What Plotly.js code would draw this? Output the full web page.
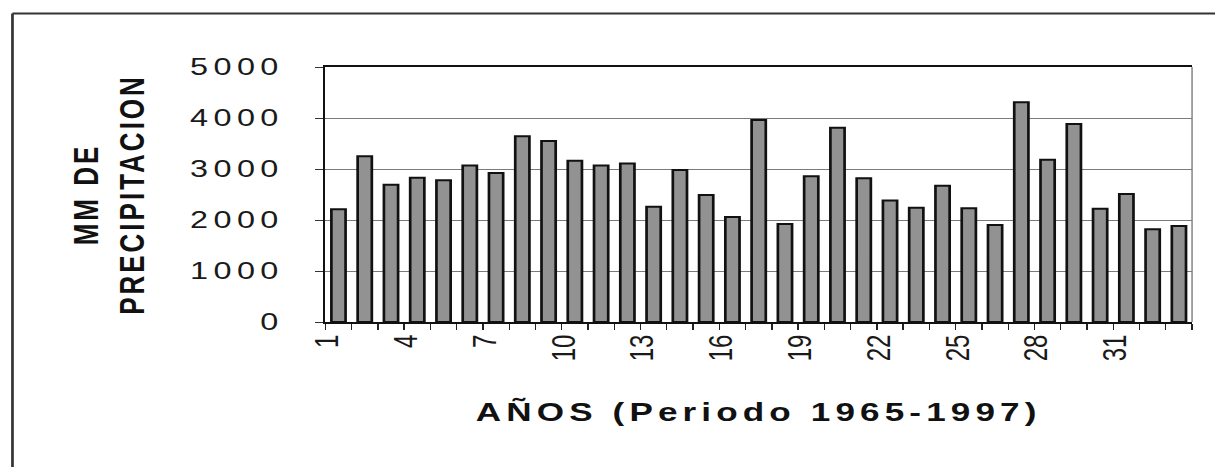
<!DOCTYPE html>
<html>
<head>
<meta charset="utf-8">
<script src="https://cdn.plot.ly/plotly-3.0.1.min.js"></script>
<style>
  html, body { margin: 0; padding: 0; background: #fff; overflow: hidden; }
  #chart { width: 900px; height: 467px; transform: scaleX(1.35); transform-origin: 0 0; }
  #chart .ytick text { letter-spacing: 4px; }
  #chart .g-xtitle text { letter-spacing: 3.8px; }
  #chart .g-ytitle text { letter-spacing: 3px; }
</style>
</head>
<body>
<div id="chart"></div>
<script>
// Year index (1 = 1965 ... 33 = 1997)
const years = [1,2,3,4,5,6,7,8,9,10,11,12,13,14,15,16,17,18,19,20,21,22,23,24,25,26,27,28,29,30,31,32,33];
// Precipitation (mm)
const precipitation = [2210,3250,2690,2830,2780,3070,2920,3640,3550,3160,3070,3110,2260,2980,2490,2060,3960,1920,2860,3810,2820,2380,2240,2670,2230,1900,4310,3180,3880,2220,2510,1820,1880];
// Tick labels
const xTickVals = [1,4,7,10,13,16,19,22,25,28,31];
const xTickText = ["1","4","7","10","13","16","19","22","25","28","31"];
const yTickVals = [0,1000,2000,3000,4000,5000];
const yTickText = ["0","1000","2000","3000","4000","5000"];

const trace = {
  type: 'bar',
  x: years,
  y: precipitation,
  marker: { color: '#929292', line: { color: '#111', width: 2 } },
  hoverinfo: 'x+y'
};

const layout = {
  width: 900,
  height: 467,
  margin: { l: 240.5, r: 17.4, t: 67.3, b: 145.3 },
  paper_bgcolor: '#fff',
  plot_bgcolor: '#fff',
  showlegend: false,
  bargap: 0.46,
  font: { family: 'Liberation Sans, Arial, sans-serif', color: '#1a1a1a' },
  xaxis: {
    range: [0.5, 33.5],
    tickmode: 'array',
    tickvals: xTickVals,
    ticktext: xTickText,
    tickangle: -90,
    ticklabelshift: -8,
    ticks: 'outside',
    ticklen: 1,
    tickcolor: 'rgba(0,0,0,0)',
    minor: { tick0: 0.5, dtick: 1, ticks: 'outside', ticklen: 6, tickcolor: '#222', tickwidth: 1 },
    tickfont: { size: 24, color: '#1a1a1a' },
    showline: true, linecolor: '#111', linewidth: 2, mirror: true,
    showgrid: false, zeroline: false, fixedrange: true,
    title: { text: 'AÑOS (Periodo 1965-1997)', font: { size: 26, weight: 'bold', color: '#111' }, standoff: 43 }
  },
  yaxis: {
    range: [0, 5000],
    tickmode: 'array',
    tickvals: yTickVals,
    ticktext: yTickText,
    ticks: 'outside', ticklen: 6, tickcolor: '#333', tickwidth: 1,
    ticklabelstandoff: 18,
    tickfont: { size: 24, color: '#1a1a1a' },
    showline: true, linecolor: '#111', linewidth: 2,
    showgrid: true, gridcolor: '#7a7a7a', gridwidth: 1,
    zeroline: false, fixedrange: true,
    title: { text: 'MM DE<br>PRECIPITACION', font: { size: 26, weight: 'bold', color: '#111' }, standoff: 42 }
  },
  shapes: [
    { type: 'line', xref: 'paper', yref: 'paper', x0: 1, x1: 1, y0: 0, y1: 1, line: { color: '#777', width: 1 } },
    { type: 'line', xref: 'paper', yref: 'paper', x0: -0.361, x1: -0.361, y0: -0.6, y1: 1.2095, line: { color: '#333', width: 2 } },
    { type: 'line', xref: 'paper', yref: 'paper', x0: -0.361, x1: 1.05, y0: 1.2095, y1: 1.2095, line: { color: '#333', width: 2 } }
  ]
};

Plotly.newPlot('chart', [trace], layout, { displayModeBar: false, staticPlot: true });
</script>
</body>
</html>
